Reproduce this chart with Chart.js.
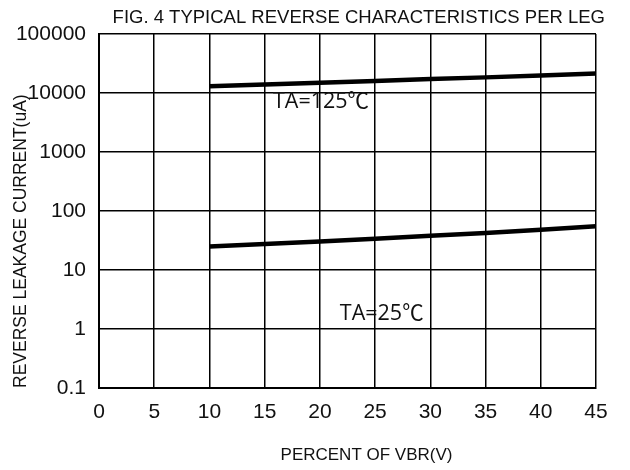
<!DOCTYPE html>
<html><head><meta charset="utf-8">
<script src="https://cdn.jsdelivr.net/npm/chart.js@4"></script>
<style>html,body{margin:0;padding:0;background:#fff}</style>
</head><body>
<canvas id="c" width="630" height="470"></canvas>
<script>
const percentVBR = [10, 15, 20, 25, 30, 35, 40, 45];
const leak125C = [13000, 13900, 14900, 16000, 17200, 18400, 19800, 21500];
const leak25C = [25, 27.5, 30.5, 34, 38, 42.5, 48, 55];
const xTicks = [0, 5, 10, 15, 20, 25, 30, 35, 40, 45];
const yTicks = [0.1, 1, 10, 100, 1000, 10000, 100000];
const seriesNames = ['TA=125℃', 'TA=25℃'];
const chartTitle = 'FIG. 4 TYPICAL REVERSE CHARACTERISTICS PER LEG';
const xTitle = 'PERCENT OF VBR(V)';
const yTitle = 'REVERSE LEAKAGE CURRENT(uA)';

const toPts = (xs, ys) => xs.map((x, i) => ({x: x, y: ys[i]}));

const textPlugin = {
  id: 'texts',
  afterDraw(chart, args, opts) {
    const ctx = chart.ctx;
    const xs = chart.scales.x, ys = chart.scales.y;
    const ca = chart.chartArea;
    ctx.save();
    ctx.fillStyle = '#111';
    ctx.font = '18.5px "Liberation Sans", Arial, sans-serif';
    ctx.textAlign = 'right';
    ctx.textBaseline = 'middle';
    ctx.fillText(chartTitle, ca.right + 9, 18);
    ctx.font = '17px "Liberation Sans", Arial, sans-serif';
    ctx.textAlign = 'center';
    ctx.fillText(xTitle, (ca.left + ca.right) / 2 + 19, 455);
    ctx.font = '21.5px "Open Sans", "Noto Sans CJK SC", sans-serif';
    opts.anchors.forEach((a, i) => {
      ctx.fillText(seriesNames[i], xs.getPixelForValue(a[0]), ys.getPixelForValue(a[1]));
    });
    ctx.restore();
  }
};

const gridStyle = {color: '#000', lineWidth: 1.5, drawTicks: false};
const tickFont = {family: '"Liberation Sans", Arial, sans-serif', size: 21};

new Chart(document.getElementById('c'), {
  type: 'line',
  data: {
    datasets: [
      {label: seriesNames[0], data: toPts(percentVBR, leak125C), borderColor: '#000', borderWidth: 4.5, pointRadius: 0, tension: 0, fill: false},
      {label: seriesNames[1], data: toPts(percentVBR, leak25C), borderColor: '#000', borderWidth: 4.5, pointRadius: 0, tension: 0, fill: false}
    ]
  },
  options: {
    responsive: false,
    animation: false,
    layout: {padding: {top: 34, right: 34, bottom: 0, left: 0}},
    plugins: {
      legend: {display: false},
      tooltip: {enabled: false},
      title: {display: false},
      texts: {anchors: [[20.1, 7000], [25.6, 1.8]]}
    },
    scales: {
      x: {
        type: 'linear', min: 0, max: 45,
        afterBuildTicks: s => { s.ticks = xTicks.map(v => ({value: v})); },
        afterFit: s => { s.height = 82; },
        ticks: {font: tickFont, color: '#111', padding: 12, maxRotation: 0, autoSkip: false},
        grid: gridStyle,
        border: {color: '#000', width: 2}
      },
      y: {
        type: 'logarithmic', min: 0.1, max: 100000,
        afterBuildTicks: s => { s.ticks = yTicks.map(v => ({value: v})); },
        afterFit: s => { s.width = 99; },
        ticks: {font: tickFont, color: '#111', padding: 13, autoSkip: false,
          callback: v => (v < 1 ? v.toFixed(1) : String(v))},
        grid: gridStyle,
        border: {color: '#000', width: 2},
        title: {display: true, text: yTitle, align: 'start', color: '#111',
          font: {family: '"Liberation Sans", Arial, sans-serif', size: 17.5}, padding: {top: 11, bottom: 0}}
      }
    }
  },
  plugins: [textPlugin]
});
</script>
</body></html>
